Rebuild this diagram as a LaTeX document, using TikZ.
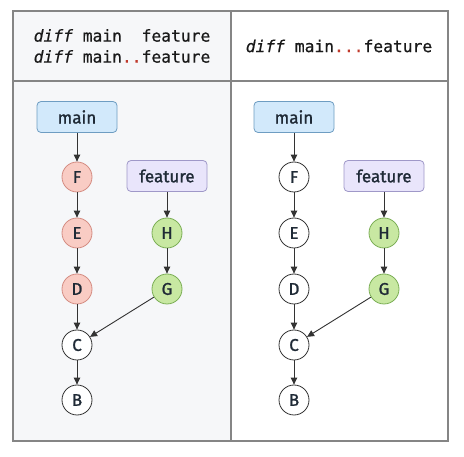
\documentclass[tikz,border=0pt]{standalone}
\usepackage{fontspec}
\setmainfont{Fira Sans}
\newfontfamily\nodefont{Fira Sans}[FakeBold=1.3]
\newfontfamily\monofont{DejaVu Sans Mono}[FakeBold=0.5]
\usetikzlibrary{arrows.meta}
\definecolor{leftbg}{HTML}{F6F7F9}
\definecolor{gridc}{HTML}{858585}
\definecolor{txt}{HTML}{1F2A36}
\definecolor{mainfill}{HTML}{D2E9FB}
\definecolor{maindraw}{HTML}{6E9DC2}
\definecolor{featfill}{HTML}{E9E5FB}
\definecolor{featdraw}{HTML}{9F98C8}
\definecolor{redfill}{HTML}{F9CCC4}
\definecolor{reddraw}{HTML}{D48C82}
\definecolor{grnfill}{HTML}{C8E8A2}
\definecolor{grndraw}{HTML}{7BAE55}
\definecolor{arrc}{HTML}{333333}
\definecolor{dotred}{HTML}{C0392B}
\begin{document}
\begin{tikzpicture}[x=1pt,y=-1pt,
  gridline/.style={draw=gridc,line width=1.1pt},
  branchbox/.style={rectangle,rounded corners=4pt,minimum width=80pt,minimum height=31pt,line width=0.8pt,text=txt,font=\nodefont\fontsize{17}{20}\selectfont},
  mainbox/.style={branchbox,fill=mainfill,draw=maindraw},
  featbox/.style={branchbox,fill=featfill,draw=featdraw},
  commit/.style={circle,minimum size=30pt,inner sep=0pt,line width=0.8pt,text=txt,font=\nodefont\fontsize{17}{20}\selectfont},
  plain/.style={commit,fill=white,draw=arrc},
  redc/.style={commit,fill=redfill,draw=reddraw},
  grnc/.style={commit,fill=grnfill,draw=grndraw},
  arr/.style={draw=arrc,line width=0.9pt,-{Triangle[length=7pt,width=6.5pt]}},
  hdr/.style={text=black!90,font=\monofont\fontsize{16.3}{21}\selectfont,align=left,inner sep=0pt}
]
\useasboundingbox (0,0) rectangle (464,457);
\fill[white] (0,0) rectangle (464,457);
\fill[leftbg] (13,11) rectangle (231,441);
\draw[gridline] (13,11) rectangle (448,441);
\draw[gridline] (231,11) -- (231,441);
\draw[gridline] (13,81) -- (448,81);

\node[hdr] (hl) at (122,46) {{\itshape diff} main\phantom{..}feature\\{\itshape diff} main{\color{dotred}..}feature};
\node[hdr] (hr) at (339,46) {{\itshape diff} main{\color{dotred}...}feature};

% left graph
\node[mainbox] (lmain) at (77,117) {main};
\node[redc] (lF) at (77,177) {F};
\node[redc] (lE) at (77,233) {E};
\node[redc] (lD) at (77,289) {D};
\node[plain] (lC) at (77,345) {C};
\node[plain] (lB) at (77,400) {B};
\node[featbox] (lfeat) at (167,176) {feature};
\node[grnc] (lH) at (167,233) {H};
\node[grnc] (lG) at (167,289) {G};
\draw[arr] (lmain) -- (lF);
\draw[arr] (lF) -- (lE);
\draw[arr] (lE) -- (lD);
\draw[arr] (lD) -- (lC);
\draw[arr] (lC) -- (lB);
\draw[arr] (lfeat) -- (lH);
\draw[arr] (lH) -- (lG);
\draw[arr] (lG) -- (lC);

% right graph
\node[mainbox] (rmain) at (294,117) {main};
\node[plain] (rF) at (294,177) {F};
\node[plain] (rE) at (294,233) {E};
\node[plain] (rD) at (294,289) {D};
\node[plain] (rC) at (294,345) {C};
\node[plain] (rB) at (294,400) {B};
\node[featbox] (rfeat) at (384,176) {feature};
\node[grnc] (rH) at (384,233) {H};
\node[grnc] (rG) at (384,289) {G};
\draw[arr] (rmain) -- (rF);
\draw[arr] (rF) -- (rE);
\draw[arr] (rE) -- (rD);
\draw[arr] (rD) -- (rC);
\draw[arr] (rC) -- (rB);
\draw[arr] (rfeat) -- (rH);
\draw[arr] (rH) -- (rG);
\draw[arr] (rG) -- (rC);
\end{tikzpicture}
\end{document}
